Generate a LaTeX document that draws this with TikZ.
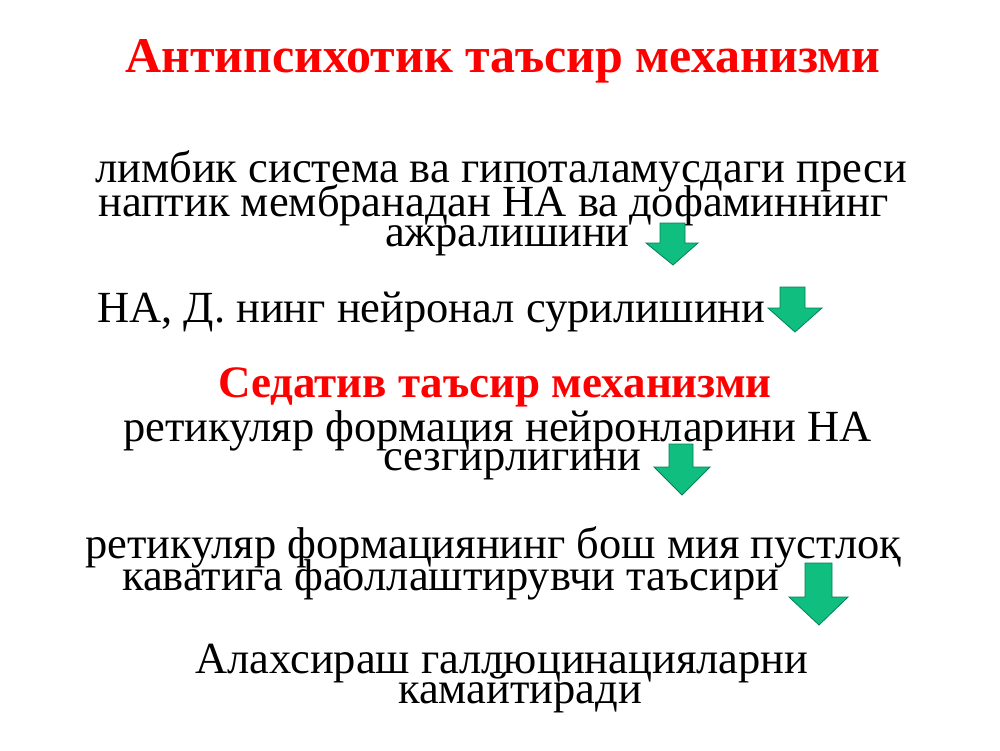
\documentclass[tikz,border=0pt]{standalone}
\usepackage{fontspec}
\setmainfont{Liberation Serif}
\definecolor{arrowgreen}{RGB}{16,190,128}
\definecolor{arrowedge}{RGB}{0,130,85}
\begin{document}
\begin{tikzpicture}[x=1pt,y=-1pt,
  txt/.style={anchor=base west, inner sep=0pt, font=\fontsize{44.5}{44.5}\selectfont},
  headA/.style={anchor=base west, inner sep=0pt, text=red, font=\fontsize{50}{50}\selectfont\bfseries},
  headB/.style={anchor=base west, inner sep=0pt, text=red, font=\fontsize{45}{45}\selectfont\bfseries},
  blockarrow/.style={fill=arrowgreen, draw=arrowedge, line width=0.8pt, line join=miter}]
\useasboundingbox (0,0) rectangle (1000,750);
\fill[white] (0,0) rectangle (1000,750);
\node[headA] (t1) at (125,72) {Антипсихотик таъсир механизми};
\node[txt] (l1) at (95,182) {лимбик система ва гипоталамусдаги преси};
\node[txt] (l2) at (98,216) {наптик мембранадан НА ва дофаминнинг};
\node[txt] (l3) at (385,246) {ажралишини};
\node[txt] (l4) at (97,322) {НА, Д. нинг нейронал сурилишини};
\node[headB] (t2) at (218,397) {Седатив таъсир механизми};
\node[txt] (l6) at (123,441) {ретикуляр формация нейронларини НА};
\node[txt] (l7) at (383,470) {сезгирлигини};
\node[txt] (l8) at (85,558) {ретикуляр формациянинг бош мия пустлоқ};
\node[txt] (l9) at (122,590) {каватига фаоллаштирувчи таъсири};
\node[txt] (l10) at (195,673) {Алахсираш галлюцинацияларни};
\node[txt] (l11) at (398,703) {камайтиради};
% block arrows
\draw[blockarrow] (660,223) -- (685,223) -- (685,243) -- (698,243) -- (673,265) -- (646,243) -- (660,243) -- cycle;
\draw[blockarrow] (780,287) -- (805,287) -- (805,308) -- (822,308) -- (795,332) -- (768,308) -- (780,308) -- cycle;
\draw[blockarrow] (669,444) -- (693,444) -- (693,467) -- (710,467) -- (682,495) -- (654,467) -- (669,467) -- cycle;
\draw[blockarrow] (805,563) -- (832,563) -- (832,597) -- (848,597) -- (819,625) -- (789,597) -- (805,597) -- cycle;
\end{tikzpicture}
\end{document}
